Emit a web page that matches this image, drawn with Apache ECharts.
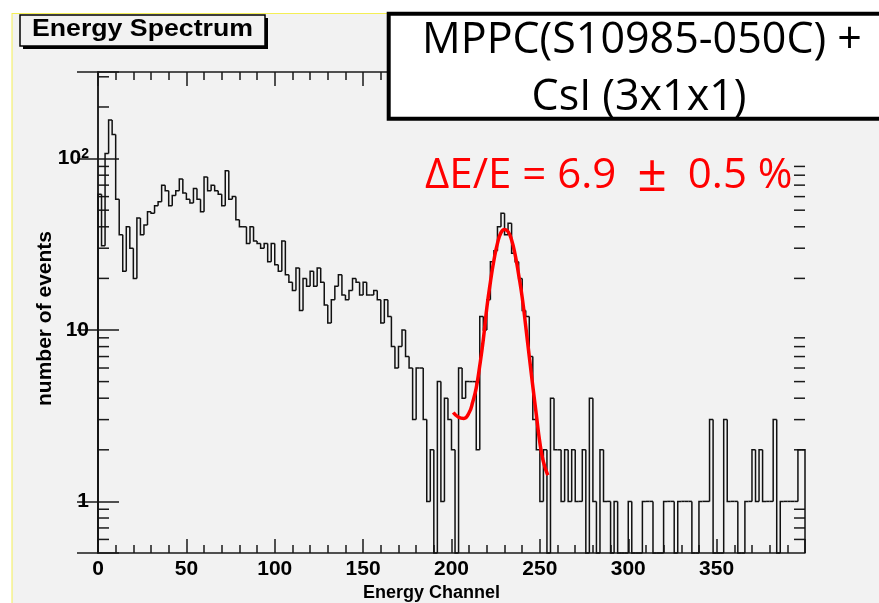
<!DOCTYPE html>
<html><head><meta charset="utf-8">
<script src="https://cdn.jsdelivr.net/npm/echarts@6/dist/echarts.min.js"></script>
<style>html,body{margin:0;padding:0;background:#fff}#c{width:879px;height:603px}</style>
</head><body><div id="c"></div>
<script>
// ---- data ----
const binWidth = 2;           // channels per bin, 200 bins over 0-400
const counts = [
  62, 31, 107, 168, 138, 58, 36, 22, 40, 30,
  20, 45, 36, 41, 49, 48, 53, 56, 70, 65,
  53, 61, 65, 76, 63, 58, 55, 67, 58, 49,
  78, 65, 70, 65, 62, 53, 85, 58, 60, 44,
  40, 40, 32, 40, 33, 32, 30, 32, 25, 32,
  24, 22, 33, 21, 19, 17, 23, 13, 20, 18,
  22, 18, 23, 19, 14, 11, 15, 18, 21, 16,
  15, 17, 20, 19, 16, 19, 16, 16, 17, 15,
  11, 15, 12, 8, 6, 8, 10, 7, 6, 3,
  6, 6, 3, 1, 2, 0, 5, 1, 4, 3,
  2, 0, 6, 4, 5, 5, 5, 2, 12, 10,
  15, 25, 29, 40, 48, 36, 42, 28, 25, 20,
  13, 12, 7, 3, 2, 1, 2, 0, 4, 2,
  2, 1, 2, 1, 2, 1, 1, 2, 0, 4,
  1, 0, 2, 1, 1, 0, 1, 0, 0, 0,
  1, 0, 0, 0, 1, 1, 1, 0, 0, 0,
  1, 1, 1, 0, 1, 1, 1, 1, 0, 0,
  1, 1, 1, 3, 0, 0, 0, 3, 1, 1,
  1, 0, 0, 1, 1, 2, 1, 2, 1, 1,
  1, 3, 0, 1, 1, 1, 1, 1, 2, 2
];
const fitX = [201, 204, 207, 210, 212, 214, 216, 218, 220, 222, 224, 226, 228, 230, 232, 234, 236, 238, 240, 242, 244, 246, 248, 250, 252, 254.5];
const fitY = [3.3, 3.1, 3.05, 3.3, 3.8, 4.6, 6.2, 8.8, 13.5, 19, 25.5, 32, 37, 38.6, 37.5, 33.5, 27.5, 21, 15.5, 10.5, 7, 4.7, 3.2, 2.2, 1.7, 1.42];
const xMin = 0, xMax = 400, xStep = 50;
const yMin = 0.5, yMax = 320;
const yMajorLabels = {1: '1', 10: '10', 100: '10{s|2}'};
const yMinorTicks = [0.6, 0.7, 0.8, 0.9, 2, 3, 4, 5, 6, 7, 8, 9, 20, 30, 40, 50, 60, 70, 80, 90, 200, 300];
const titleText = 'Energy Spectrum';
const boxLines = ['MPPC(S10985-050C) +', 'CsI (3x1x1)'];
const resParts = ['ΔE/E = 6.9 ', '±', ' 0.5 %'];
const xName = 'Energy Channel', yName = 'number of events';

// ---- build ----
const histData = counts.map((c, i) => [i * binWidth, (i + 1) * binWidth, c, i ? counts[i - 1] : 0]);
const fitData = fitX.map((x, i) => [x, fitY[i]]);
const minorData = yMinorTicks.map(v => [0, v]);

const FONT = 'Liberation Sans';
const AX = '#1a1a1a';
const lblStyle = {fontFamily: FONT, fontWeight: 'bold', fontSize: 21, color: '#000'};

function yFmt(v) {
  for (const k in yMajorLabels) { if (Math.abs(v - k) < 1e-6 * k) return yMajorLabels[k]; }
  return '';
}
const xAxisCommon = {
  type: 'value', min: xMin, max: xMax, interval: xStep,
  axisLine: {show: true, lineStyle: {color: AX, width: 1.5}},
  axisTick: {show: true, inside: true, length: 14, lineStyle: {color: AX, width: 1.5}},
  minorTick: {show: true, splitNumber: 5, length: 8, lineStyle: {color: AX, width: 1.5}},
  splitLine: {show: false}
};
const yAxisCommon = {
  type: 'log', logBase: 10, min: yMin, max: yMax,
  axisLine: {show: true, lineStyle: {color: AX, width: 1.5}},
  axisTick: {show: true, inside: true, length: 21, lineStyle: {color: AX, width: 1.5}},
  splitLine: {show: false}
};

const chart = echarts.init(document.getElementById('c'), null, {renderer: 'canvas'});
chart.setOption({
  backgroundColor: '#ffffff',
  animation: false,
  grid: {left: 98, right: 74, top: 72, bottom: 50, containLabel: false, outerBoundsMode: 'none'},
  xAxis: [
    Object.assign({}, xAxisCommon, {
      position: 'bottom',
      axisLabel: Object.assign({}, lblStyle, {margin: 6, formatter: v => (v >= xMax ? '' : String(v))}),
      name: xName, nameLocation: 'middle', nameGap: 31, nameMoveOverlap: false,
      nameTextStyle: {fontFamily: FONT, fontWeight: 'bold', fontSize: 18, color: '#000', padding: [0, 40, 0, 0]}
    }),
    Object.assign({}, xAxisCommon, {position: 'top', axisLabel: {show: false}})
  ],
  yAxis: [
    Object.assign({}, yAxisCommon, {
      position: 'left',
      axisLabel: Object.assign({}, lblStyle, {margin: 9, formatter: yFmt,
        rich: {s: {fontFamily: FONT, fontWeight: 'bold', fontSize: 14, color: '#000', verticalAlign: 'top', padding: [0, 0, 9, 0]}}}),
      name: yName, nameLocation: 'middle', nameGap: 42, nameRotate: 90, nameMoveOverlap: false,
      nameTextStyle: {fontFamily: FONT, fontWeight: 'bold', fontSize: 21, color: '#000', padding: [0, 12, 0, 0]}
    }),
    Object.assign({}, yAxisCommon, {position: 'right', axisLabel: {show: false}})
  ],
  series: [
    {
      type: 'custom', name: 'minor ticks', xAxisIndex: 0, yAxisIndex: 0, silent: true, clip: false,
      data: minorData, encode: {x: 0, y: 1},
      renderItem: function (params, api) {
        const cs = params.coordSys;
        const y = api.coord([xMin, api.value(1)])[1];
        const st = {stroke: AX, lineWidth: 1.5};
        return {type: 'group', children: [
          {type: 'line', shape: {x1: cs.x, y1: y, x2: cs.x + 11, y2: y}, style: st},
          {type: 'line', shape: {x1: cs.x + cs.width - 11, y1: y, x2: cs.x + cs.width, y2: y}, style: st}
        ]};
      }
    },
    {
      type: 'custom', name: 'histogram', xAxisIndex: 0, yAxisIndex: 0, silent: true, clip: false,
      data: histData, encode: {x: [0, 1], y: 2},
      renderItem: function (params, api) {
        const cs = params.coordSys;
        const bottom = cs.y + cs.height;
        const lo = api.value(0), hi = api.value(1), v = api.value(2), pv = api.value(3);
        const yOf = val => (val > 0 ? api.coord([lo, val])[1] : bottom);
        const x0 = api.coord([lo, 1])[0], x1 = api.coord([hi, 1])[0];
        const pts = [[x0, yOf(pv)], [x0, yOf(v)], [x1, yOf(v)]];
        if (params.dataIndex === counts.length - 1) pts.push([x1, bottom]);
        return {type: 'polyline', shape: {points: pts}, style: {stroke: '#111', lineWidth: 1.5, fill: null}};
      }
    },
    {
      type: 'line', name: 'fit', xAxisIndex: 0, yAxisIndex: 0, data: fitData, smooth: true,
      showSymbol: false, symbol: 'none', silent: true,
      lineStyle: {color: '#ff0000', width: 3.5}, z: 5
    }
  ],
  graphic: [
    {type: 'rect', z: -10, silent: true, shape: {x: 12, y: 13, width: 900, height: 600}, style: {fill: '#f2f2f2'}},
    {type: 'line', z: -9, silent: true, shape: {x1: 12, y1: 13.5, x2: 390, y2: 13.5}, style: {stroke: '#f4ef55', lineWidth: 1}},
    {type: 'line', z: -9, silent: true, shape: {x1: 12, y1: 13, x2: 12, y2: 603}, style: {stroke: '#f4ef55', lineWidth: 1}},
    // title pave with shadow
    {type: 'rect', z: 50, silent: true, shape: {x: 23, y: 18, width: 245, height: 31}, style: {fill: '#000'}},
    {type: 'rect', z: 51, silent: true, shape: {x: 20, y: 15, width: 245, height: 31}, style: {fill: '#f2f2f2', stroke: '#000', lineWidth: 1.5}},
    {type: 'text', z: 52, silent: true, x: 32, y: 30, scaleX: 1.16, scaleY: 1,
      style: {x: 0, y: 0, text: titleText, fontFamily: FONT, fontWeight: 'bold', fontSize: 23, fill: '#000', verticalAlign: 'middle', align: 'left'}},
    // annotation box
    {type: 'rect', z: 60, silent: true, shape: {x: 388.7, y: 13.8, width: 520, height: 105}, style: {fill: '#ffffff', stroke: '#000', lineWidth: 4}},
    {type: 'text', z: 61, silent: true, style: {x: 642, y: 41, text: boxLines[0], fontFamily: 'Open Sans', fontSize: 43, fill: '#000', align: 'center', verticalAlign: 'middle'}},
    {type: 'text', z: 61, silent: true, style: {x: 639, y: 98, text: boxLines[1], fontFamily: 'Open Sans', fontSize: 43, fill: '#000', align: 'center', verticalAlign: 'middle'}},
    {type: 'text', z: 61, silent: true, style: {x: 425, y: 176,
      text: '{a|' + resParts[0] + '}{b|' + resParts[1] + '}{a|' + resParts[2] + '}',
      align: 'left', verticalAlign: 'middle',
      rich: {
        a: {fontFamily: 'Open Sans', fontSize: 42, fill: '#ff0000', color: '#ff0000', verticalAlign: 'middle'},
        b: {fontFamily: 'Open Sans', fontSize: 52, fill: '#ff0000', color: '#ff0000', verticalAlign: 'middle', padding: [0, 10, 0, 10]}
      }}}
  ]
});
</script>
</body></html>
